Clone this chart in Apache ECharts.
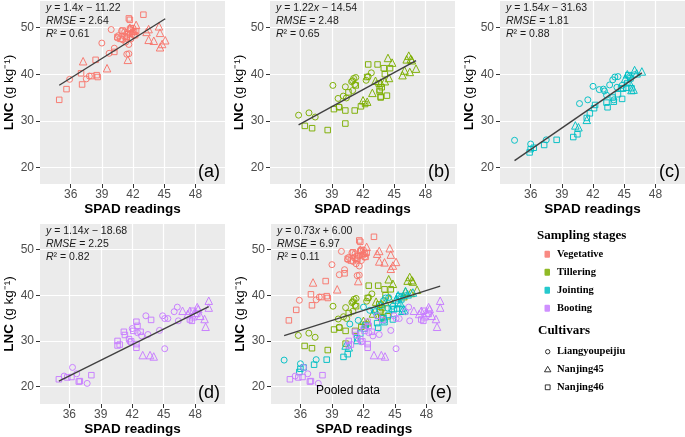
<!DOCTYPE html>
<html><head><meta charset="utf-8">
<script src="https://cdn.jsdelivr.net/npm/echarts@6/dist/echarts.min.js"></script>
<style>html,body{margin:0;padding:0;background:#fff}#c{width:685px;height:437px}</style>
</head><body><div id="c"></div>
<script>
// ---------- data ----------
const xTicks = [36, 39, 42, 45, 48];
const yTicks = [20, 30, 40, 50];
const stages = ['Vegetative', 'Tillering', 'Jointing', 'Booting'];
const cultivars = ['Liangyoupeijiu', 'Nanjing45', 'Nanjing46'];
const stageColors = ['#F8766D', '#7CAE00', '#00BFC4', '#C77CFF'];
const panelLabels = ['(a)', '(b)', '(c)', '(d)', '(e)'];
const slopes = [1.4, 1.22, 1.54, 1.14, 0.73];
const intercepts = [-11.22, -14.54, -31.63, -18.68, 6.00];
const slopeText = ['1.4', '1.22', '1.54', '1.14', '0.73'];
const interceptText = ['− 11.22', '− 14.54', '− 31.63', '− 18.68', '+ 6.00'];
const rmseText = ['2.64', '2.48', '1.81', '2.25', '6.97'];
const r2Text = ['0.61', '0.65', '0.88', '0.82', '0.11'];

// Vegetative (a)
const aCircle = [[35.9,38.9],[37.5,39.0],[37.8,39.6],[39.0,46.7],[39.7,44.5],[39.9,49.6],[40.2,45.6],[40.5,47.8],[40.9,49.3],[41.0,47.4],[41.3,46.9],[41.4,44.3],[41.6,44.4],[41.6,46.4],[41.8,47.6],[42.0,49.9],[42.1,48.3],[40.6,48.3],[41.2,49.1]];
const aTriangle = [[37.2,42.8],[39.5,41.3],[41.5,43.1],[41.7,50.0],[42.3,50.6],[43.3,49.1],[43.5,49.7],[43.5,47.4],[44.0,47.2],[44.5,50.3],[44.6,48.9],[44.6,45.8],[44.8,46.5],[45.1,47.3],[42.0,49.4]];
const aSquare = [[34.9,34.5],[35.6,36.8],[37.0,40.2],[37.1,37.8],[38.0,39.6],[38.5,39.8],[38.6,39.4],[38.4,43.1],[40.2,44.8],[40.5,48.0],[40.8,47.6],[41.0,49.4],[41.2,48.2],[41.4,47.7],[41.5,48.6],[41.6,52.0],[41.7,51.7],[41.7,49.6],[41.9,48.8],[42.1,49.1],[42.2,48.4],[42.3,49.3],[43.0,52.8],[41.4,48.0],[41.8,49.9]];
// Tillering (b)
const bCircle = [[35.8,31.2],[36.8,31.7],[37.4,30.8],[39.1,37.6],[39.6,34.8],[39.7,33.0],[40.1,35.3],[40.3,37.3],[40.4,34.9],[40.9,38.4],[41.0,36.5],[41.1,39.1],[41.3,39.3],[41.2,37.8],[42.3,38.7],[42.5,39.5],[42.8,40.3],[41.0,38.6]];
const bTriangle = [[42.0,34.4],[42.4,34.1],[42.9,36.0],[43.2,38.6],[43.7,38.2],[44.1,38.5],[44.4,43.5],[44.5,39.2],[44.8,42.5],[45.8,39.8],[46.0,40.8],[46.2,43.2],[46.4,44.0],[46.6,43.3],[46.7,43.0],[47.1,41.2],[46.5,40.5]];
const bSquare = [[36.4,28.9],[37.1,28.4],[38.6,28.0],[39.2,32.5],[39.7,32.9],[40.3,32.2],[40.3,29.4],[40.6,36.1],[41.2,32.2],[41.3,37.6],[41.8,33.1],[42.2,33.6],[42.5,42.1],[43.4,42.1],[43.5,38.0],[43.6,36.7],[43.7,35.2],[43.7,35.0],[43.8,37.2],[44.0,41.3],[44.1,40.0],[44.3,35.4],[44.6,41.3],[42.4,39.4],[43.6,36.3]];
// Jointing (c)
const cCircle = [[34.45,25.8],[36.0,25.0],[37.5,25.9],[40.7,33.7],[41.5,34.5],[42.0,37.4],[42.6,36.7],[43.0,36.8],[43.1,36.4],[43.3,35.5],[43.6,37.7],[43.9,38.8],[44.1,39.4],[44.4,39.5],[44.3,37.2],[44.0,34.5],[44.8,37.6],[45.5,39.5],[46.0,39.9]];
const cTriangle = [[40.3,29.0],[40.6,28.6],[41.4,30.2],[45.1,39.1],[45.3,40.0],[45.7,36.6],[45.9,36.7],[46.0,40.9],[46.2,40.2],[46.7,40.6],[45.5,38.3]];
const cSquare = [[35.9,23.2],[36.0,23.9],[36.3,24.2],[37.3,24.8],[38.5,25.9],[40.1,26.5],[40.5,27.1],[41.4,30.6],[41.7,31.6],[42.1,32.7],[42.2,33.4],[43.3,33.9],[43.4,32.9],[44.0,34.1],[43.9,35.0],[44.4,35.7],[44.8,34.7],[44.7,37.0],[45.3,38.1],[45.6,39.1],[45.4,39.8],[45.7,37.0],[45.2,37.1],[44.9,36.9]];
// Booting (d)
const dCircle = [[35.5,22.3],[36.3,24.2],[36.7,22.8],[37.7,20.7],[42.0,32.7],[42.9,31.1],[43.3,35.5],[43.5,31.4],[44.6,32.3],[44.9,35.5],[45.1,34.9],[45.4,34.9],[45.1,28.3],[46.0,36.4],[46.3,37.4],[46.4,34.4],[42.5,31.8],[41.8,29.8]];
const dTriangle = [[43.0,26.9],[43.7,26.9],[44.05,26.6],[46.8,36.6],[47.3,35.9],[47.5,36.6],[47.8,35.4],[48.2,37.4],[48.3,37.0],[48.5,35.5],[48.9,34.8],[49.0,33.1],[49.3,38.8],[49.3,37.3],[48.0,36.2]];
const dSquare = [[35.0,21.6],[35.8,22.0],[36.2,22.1],[36.9,21.1],[37.0,21.2],[38.1,22.5],[40.6,30.0],[40.6,29.0],[40.8,29.2],[41.2,32.0],[41.3,31.3],[41.7,30.4],[41.9,29.9],[42.1,32.2],[42.4,34.2],[42.5,33.3],[42.8,32.0],[42.4,29.3],[42.4,28.5],[43.8,34.6],[47.5,34.7],[47.7,34.4],[47.8,36.6],[48.2,35.9]];

// ---------- layout ----------
const stageData = [
  [aCircle, aTriangle, aSquare],
  [bCircle, bTriangle, bSquare],
  [cCircle, cTriangle, cSquare],
  [dCircle, dTriangle, dSquare]
];
const shapes = ['circle', 'triangle', 'rect'];
const shapeSizes = [6, 7.5, 5.5];
const grids = [
  {left: 40, top: 1, width: 185, height: 183},
  {left: 270, top: 1, width: 185, height: 183},
  {left: 500, top: 1, width: 185, height: 183},
  {left: 40, top: 224, width: 185, height: 181},
  {left: 271, top: 224, width: 186, height: 181}
];
const xRanges = [[33.05, 50.85], [33.05, 50.85], [33.05, 50.85], [33.2, 50.85], [33.2, 50.9]];
const yRanges = [[16.41, 55.74], [16.41, 55.74], [16.41, 55.74], [16.19, 55.6], [16.19, 55.6]];
const FONT = '"Liberation Sans", Arial, Helvetica, sans-serif';
const SERIF = '"Liberation Serif", "Times New Roman", serif';

const option = {
  animation: false,
  textStyle: {fontFamily: FONT},
  grid: grids.map(g => Object.assign({show: true, backgroundColor: '#EBEBEB', borderWidth: 0}, g)),
  xAxis: grids.map((g, i) => ({
    type: 'value', gridIndex: i, min: xRanges[i][0], max: xRanges[i][1],
    axisLine: {show: false},
    axisTick: {show: true, length: 4, lineStyle: {color: '#333333', width: 1}, customValues: xTicks},
    axisLabel: {customValues: xTicks, color: '#4D4D4D', fontSize: 12, margin: 5, fontFamily: FONT},
    splitLine: {show: true, lineStyle: {color: '#FFFFFF', width: 1.2}},
    name: 'SPAD readings', nameLocation: 'middle', nameGap: 18,
    nameTextStyle: {fontWeight: 'bold', fontSize: 13.5, color: '#000', fontFamily: FONT}
  })),
  yAxis: grids.map((g, i) => ({
    type: 'value', gridIndex: i, min: yRanges[i][0], max: yRanges[i][1],
    axisLine: {show: false},
    axisTick: {show: true, length: 4, lineStyle: {color: '#333333', width: 1}, customValues: yTicks},
    axisLabel: {customValues: yTicks, color: '#4D4D4D', fontSize: 12, margin: 6, fontFamily: FONT},
    splitLine: {show: true, lineStyle: {color: '#FFFFFF', width: 1.2}},
    name: '{b|LNC} (g kg⁻¹)', nameLocation: 'middle', nameGap: 21, nameRotate: 90,
    nameTextStyle: {fontSize: 13.5, color: '#000', fontFamily: FONT,
      rich: {b: {fontWeight: 'bold', fontSize: 13.5, color: '#000', fontFamily: FONT}}}
  })),
  series: [],
  graphic: []
};

function scatter(data, panel, stage, cult) {
  return {
    type: 'scatter', xAxisIndex: panel, yAxisIndex: panel, data: data,
    symbol: shapes[cult], symbolSize: shapeSizes[cult], silent: true,
    itemStyle: {color: 'rgba(0,0,0,0)', borderColor: stageColors[stage], borderWidth: 1, opacity: 0.95}
  };
}
for (let p = 0; p < 4; p++) {
  for (let c = 0; c < 3; c++) option.series.push(scatter(stageData[p][c], p, p, c));
}
for (let s = 0; s < 4; s++) {
  for (let c = 0; c < 3; c++) option.series.push(scatter(stageData[s][c], 4, s, c));
}
function panelPoints(p) {
  if (p < 4) return [].concat(...stageData[p]);
  return [].concat(...stageData.map(st => [].concat(...st)));
}
for (let p = 0; p < 5; p++) {
  const xs = panelPoints(p).map(d => d[0]);
  const x0 = Math.min(...xs), x1 = Math.max(...xs);
  option.series.push({
    type: 'line', xAxisIndex: p, yAxisIndex: p, symbol: 'none', silent: true, z: 5,
    data: [[x0, slopes[p] * x0 + intercepts[p]], [x1, slopes[p] * x1 + intercepts[p]]],
    lineStyle: {color: '#404040', width: 1.4}
  });
}
for (let p = 0; p < 5; p++) {
  const g = grids[p];
  const lines = [
    '{i|y} = ' + slopeText[p] + '{i|x} ' + interceptText[p],
    '{i|RMSE} = ' + rmseText[p],
    '{i|R}² = ' + r2Text[p]
  ];
  lines.forEach((t, k) => {
    option.graphic.push({
      type: 'text', x: g.left + 6, y: g.top + 7 + k * 13.2, z: 10, silent: true,
      style: {text: t, fontSize: 10.5, fontFamily: FONT, fill: '#1a1a1a', verticalAlign: 'middle', align: 'left',
        rich: {i: {fontStyle: 'italic', fontSize: 10.5, fontFamily: FONT, fill: '#1a1a1a'}}}
    });
  });
  option.graphic.push({
    type: 'text', x: g.left + g.width - 5, y: g.top + g.height - 12, z: 10, silent: true,
    style: {text: panelLabels[p], fontSize: 18, fontFamily: FONT, fill: '#000', align: 'right', verticalAlign: 'middle'}
  });
}
option.graphic.push({
  type: 'text', x: grids[4].left + 77, y: grids[4].top + grids[4].height - 14, z: 10, silent: true,
  style: {text: 'Pooled data', fontSize: 12, fontFamily: FONT, fill: '#000', align: 'center', verticalAlign: 'middle'}
});
option.graphic.push({type: 'text', x: 537, y: 236, silent: true,
  style: {text: 'Sampling stages', fontSize: 13, fontWeight: 'bold', fontFamily: SERIF, fill: '#000', verticalAlign: 'middle'}});
const stageY = [254.3, 272.3, 290.3, 308.3];
stages.forEach((s, i) => {
  option.graphic.push({type: 'rect', shape: {x: 544.5, y: stageY[i] - 3.5, width: 5.5, height: 7, r: 1}, silent: true,
    style: {fill: stageColors[i], opacity: 0.85}});
  option.graphic.push({type: 'text', x: 557, y: stageY[i], silent: true,
    style: {text: s, fontSize: 10.5, fontWeight: 'bold', fontFamily: SERIF, fill: '#000', verticalAlign: 'middle'}});
});
option.graphic.push({type: 'text', x: 538, y: 331, silent: true,
  style: {text: 'Cultivars', fontSize: 13, fontWeight: 'bold', fontFamily: SERIF, fill: '#000', verticalAlign: 'middle'}});
const cultY = [351.7, 369.3, 387.3];
option.graphic.push({type: 'circle', shape: {cx: 547.7, cy: cultY[0], r: 2.2}, silent: true,
  style: {fill: 'none', stroke: '#000', lineWidth: 0.8}});
option.graphic.push({type: 'polygon', shape: {points: [[547.7, cultY[1] - 3], [550.9, cultY[1] + 2.5], [544.5, cultY[1] + 2.5]]}, silent: true,
  style: {fill: 'none', stroke: '#000', lineWidth: 0.8}});
option.graphic.push({type: 'rect', shape: {x: 545.3, y: cultY[2] - 2.4, width: 4.8, height: 4.8}, silent: true,
  style: {fill: 'none', stroke: '#000', lineWidth: 0.8}});
cultivars.forEach((c, i) => {
  option.graphic.push({type: 'text', x: 557, y: cultY[i], silent: true,
    style: {text: c, fontSize: 10.5, fontWeight: 'bold', fontFamily: SERIF, fill: '#000', verticalAlign: 'middle'}});
});

const chart = echarts.init(document.getElementById('c'), null, {renderer: 'canvas'});
chart.setOption(option);
</script>
</body></html>
